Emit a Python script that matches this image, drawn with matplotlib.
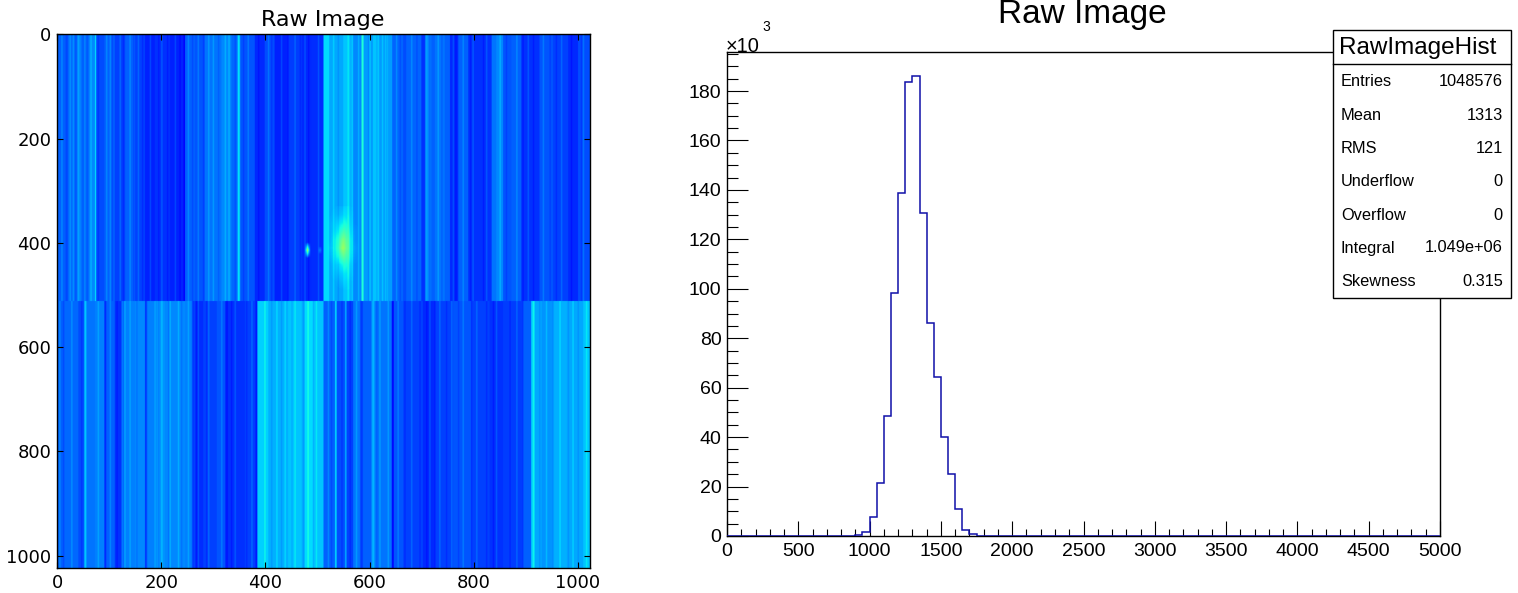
import numpy as np
import matplotlib
matplotlib.use("Agg")
import matplotlib.pyplot as plt
from matplotlib.patches import Rectangle
from matplotlib.lines import Line2D

W, H = 1518, 593

# ---- image data: column bands (end column, level on the jet scale) ----
top_ends = [15, 20, 38, 47, 60, 73, 75, 91, 111, 131, 150, 169, 188, 217, 243, 246, 265, 284, 316, 335,
            347, 352, 380, 399, 418, 444, 470, 489, 512,
            523, 550, 569, 585, 589, 607, 619, 630, 636, 644, 665, 671, 700, 707, 719, 726, 745, 755,
            771, 790, 835, 844, 857, 873, 892, 927, 953, 982, 1001, 1024]
top_vals = [.22, .21, .23, .25, .22, .26, .31, .20, .22, .19, .22, .19, .16, .175, .16, .11, .22, .21, .24, .26,
            .23, .31, .21, .165, .20, .16, .185, .165, .17,
            .34, .29, .32, .26, .39, .28, .32, .28, .31, .28, .225, .20, .225, .175, .25, .22, .24, .22,
            .165, .22, .175, .24, .26, .21, .22, .175, .21, .19, .165, .20]
bot_ends = [15, 41, 52, 56, 73, 91, 95, 111, 124, 134, 150, 169, 172, 191, 207, 246, 259, 265, 281, 307,
            323, 329, 361, 380, 385, 406, 444, 470, 476, 492, 512,
            534, 537, 553, 556, 569, 582, 588, 604, 611, 643, 647, 665, 703, 726, 761, 796, 831, 857,
            895, 911, 918, 931, 953, 979, 1011, 1024]
bot_vals = [.22, .23, .20, .29, .24, .25, .185, .22, .175, .25, .25, .26, .18, .25, .27, .26, .25, .20, .17, .19,
            .21, .165, .175, .19, .17, .33, .30, .32, .30, .34, .32,
            .22, .31, .20, .26, .19, .24, .20, .22, .27, .24, .15, .21, .19, .165, .19, .21, .19, .175,
            .185, .22, .33, .29, .27, .30, .29, .32]

# thin stripes: centre columns, one list per half, brighter and darker
top_light = [9, 25, 31, 41, 53, 65, 74, 95, 102, 121, 140, 156, 179, 201, 227, 252, 271, 291, 300, 323, 330, 348,
             367, 406, 431, 457, 476, 502,
             531, 559, 579, 601, 625, 652, 681, 710, 732, 761, 780, 799, 825, 851, 883, 905, 934, 969, 1011]
top_dark = [19, 36, 60, 79, 106, 127, 147, 164, 195, 212, 236, 260, 281, 310, 342, 358, 387, 412, 444, 467, 483,
            540, 564, 598, 614, 633, 659, 691, 716, 739, 766, 794, 819, 863, 895, 915, 947, 959, 988, 1007]
bot_light = [5, 28, 55, 79, 102, 130, 140, 188, 201, 217, 233, 252, 271, 291, 316, 342, 374, 399, 422, 438, 457,
             482, 498,
             521, 536, 555, 575, 607, 620, 636, 655, 681, 716, 735, 758, 780, 806, 844, 883, 915, 940, 966, 991, 1017]
bot_dark = [12, 47, 92, 115, 127, 153, 172, 195, 214, 239, 262, 268, 287, 326, 335, 364, 383, 412, 431, 451, 473, 492,
            527, 547, 563, 585, 614, 645, 668, 697, 710, 726, 748, 771, 796, 825, 838, 870, 895, 927, 953, 982, 1001]
light_step = 0.035
dark_step = -0.02

# bright blob near column 548, row 410
blob_rows = [330, 346, 362, 378, 394, 410, 426, 442, 458, 474, 490]
blob_cols = [516, 524, 532, 540, 548, 556, 564, 572, 580]
blob_vals = [
    [0, 0, .00, .01, .01, .01, 0, 0, 0],
    [0, 0, .01, .02, .03, .02, .01, 0, 0],
    [0, .01, .02, .05, .07, .05, .02, 0, 0],
    [0, .01, .03, .08, .13, .09, .03, .01, 0],
    [0, .01, .05, .12, .20, .13, .05, .01, 0],
    [0, .02, .05, .14, .24, .15, .05, .02, 0],
    [0, .01, .04, .10, .16, .11, .04, .01, 0],
    [0, 0, .02, .05, .08, .06, .02, 0, 0],
    [0, 0, .01, .03, .04, .03, .01, 0, 0],
    [0, 0, 0, .01, .02, .01, 0, 0, 0],
    [0, 0, 0, 0, 0, 0, 0, 0, 0],
]
spot_rows = [400, 407, 414, 421, 428]
spot_cols = [475, 478, 481, 484, 487]
spot_vals = [
    [0, 0, .04, 0, 0],
    [0, .08, .22, .08, 0],
    [0, .16, .40, .16, 0],
    [0, .08, .22, .08, 0],
    [0, 0, .04, 0, 0],
]
faint_rows = [408, 414, 420]
faint_cols = [501, 505, 509]
faint_vals = [[0, .02, 0], [0, .08, 0], [0, .02, 0]]

# ---- histogram data ----
hist_edges = np.arange(0, 5001, 50)
hist_start = [900, 950, 1000, 1050, 1100, 1150, 1200, 1250, 1300, 1350, 1400, 1450, 1500, 1550, 1600, 1650, 1700, 1750]
hist_counts = [0.3, 1.5, 7.8, 21.5, 48.7, 98.5, 138.7, 183.7, 186.2, 130.7, 86, 64.5, 40, 25.2, 11, 2.5, 0.8, 0.2]

stat_names = ["Entries", "Mean", "RMS", "Underflow", "Overflow", "Integral", "Skewness"]
stat_values = ["1048576", "1313", "121", "0", "0", "1.049e+06", "0.315"]
stat_y = [82, 115, 148, 182, 215, 248, 281]

# ---- build image ----
def bands(ends, vals, light, dark):
    out = np.zeros(1024)
    s = 0
    for e, v in zip(ends, vals):
        out[s:e] = v
        s = e
    for c in light:
        out[c - 1:c + 2] += light_step
    for c in dark:
        out[c - 1:c + 2] += dark_step
    return out

img = np.zeros((1024, 1024))
img[:512] = bands(top_ends, top_vals, top_light, top_dark)
img[512:] = bands(bot_ends, bot_vals, bot_light, bot_dark)

def add_table(rows, cols, vals):
    vals = np.array(vals, float)
    rr = np.arange(rows[0], rows[-1] + 1)
    cc = np.arange(cols[0], cols[-1] + 1)
    by_col = np.array([np.interp(cc, cols, row) for row in vals])
    patch = np.array([np.interp(rr, rows, by_col[:, j]) for j in range(len(cc))]).T
    img[rows[0]:rows[-1] + 1, cols[0]:cols[-1] + 1] += patch

add_table(blob_rows, blob_cols, blob_vals)
add_table(spot_rows, spot_cols, spot_vals)
add_table(faint_rows, faint_cols, faint_vals)

# ---- figure ----
fig = plt.figure(figsize=(W / 100, H / 100), dpi=100, facecolor="white")

def axes_px(l, t, r, b):
    return fig.add_axes([l / W, 1 - b / H, (r - l) / W, (b - t) / H])

def ftext(x, y, s, **kw):
    return fig.text(x / W, 1 - y / H, s, **kw)

# left panel
ax = axes_px(57, 34, 590, 568)
ax.imshow(img, cmap="jet", vmin=0, vmax=1, aspect="auto", interpolation="antialiased")
ax.set_xlim(-0.5, 1023.5)
ax.set_ylim(1023.5, -0.5)
ax.set_xticks(range(0, 1001, 200))
ax.set_yticks(range(0, 1001, 200))
ax.tick_params(direction="in", top=True, right=True, length=4.5, width=0.8, labelsize=13, pad=4,
               labelfontfamily="DejaVu Sans")
for s in ax.spines.values():
    s.set_linewidth(1.0)
ftext(323, 20, "Raw Image", ha="center", va="center", fontsize=16, family="DejaVu Sans")

# right panel
HF = "Liberation Sans"
ax2 = axes_px(727, 52, 1440, 536)
counts = np.zeros(len(hist_edges) - 1)
for st, c in zip(hist_start, hist_counts):
    counts[int(st / 50)] = c
ax2.stairs(counts, hist_edges, color="#1010a8", linewidth=1.1, zorder=3)
ax2.set_xlim(0, 5000)
ax2.set_ylim(0, 195.8)
ax2.set_xticks(np.arange(0, 5001, 500))
ax2.set_xticks(np.arange(0, 5001, 100), minor=True)
ax2.set_yticks(np.arange(0, 181, 20))
ax2.set_yticks(np.arange(0, 196, 5), minor=True)
ax2.tick_params(axis="x", which="major", direction="in", length=10.5, width=0.8, labelsize=14, pad=5,
                labelfontfamily=HF)
ax2.tick_params(axis="x", which="minor", direction="in", length=5.2, width=0.8)
ax2.tick_params(axis="y", which="major", direction="in", length=15, width=0.8, labelsize=14, pad=4,
                labelfontfamily=HF)
ax2.tick_params(axis="y", which="minor", direction="in", length=8, width=0.8)
for s in ax2.spines.values():
    s.set_linewidth(1.0)

ftext(1082, 14.5, "Raw Image", ha="center", va="center", fontsize=24, family=HF)
ftext(726, 47, "\u00d710", ha="left", va="center", fontsize=14.4, family=HF)
ftext(762, 27, "3", ha="left", va="center", fontsize=10, family=HF)

# stats box
fig.add_artist(Rectangle((1333 / W, 1 - 298 / H), 178 / W, 268 / H, transform=fig.transFigure,
                         facecolor="white", edgecolor="black", linewidth=1.0, zorder=5))
fig.add_artist(Line2D([1333 / W, 1511 / W], [1 - 63.5 / H, 1 - 63.5 / H], transform=fig.transFigure,
                      color="black", linewidth=1.0, zorder=6))
ftext(1339, 48, "RawImageHist", ha="left", va="center", fontsize=17.5, family=HF, zorder=7)
for n, v, y in zip(stat_names, stat_values, stat_y):
    ftext(1341, y, n, ha="left", va="center", fontsize=11.8, family=HF, zorder=7)
    ftext(1503, y, v, ha="right", va="center", fontsize=11.8, family=HF, zorder=7)

fig.savefig("out.png", dpi=100, facecolor="white")
